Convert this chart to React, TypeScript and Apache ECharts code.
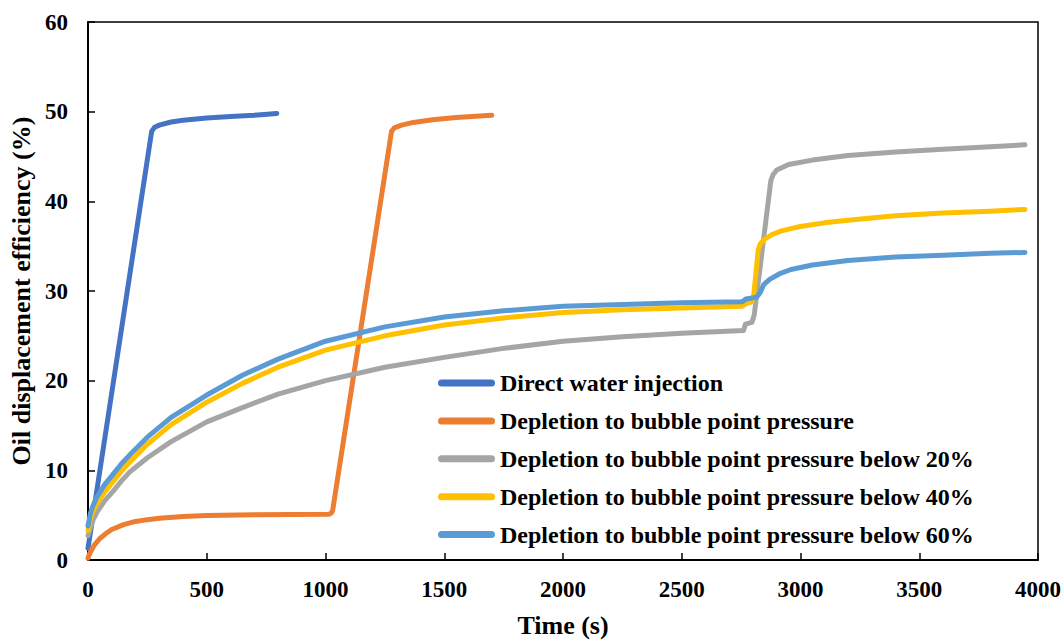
import React, { useEffect, useRef } from "react";
import * as echarts from "echarts";

const seriesNames = [
  "Direct water injection",
  "Depletion to bubble point pressure",
  "Depletion to bubble point pressure below 20%",
  "Depletion to bubble point pressure below 40%",
  "Depletion to bubble point pressure below 60%",
];
const seriesColors = ["#4472C4", "#ED7D31", "#A5A5A5", "#FFC000", "#5B9BD5"];

const directWater: number[][] = [
  [0, 1.3], [268, 47.8], [280, 48.25], [300, 48.5], [350, 48.85], [400, 49.05], [500, 49.3],
  [600, 49.45], [700, 49.6], [795, 49.8],
];
const depletionBubble: number[][] = [
  [0, 0.2], [5, 0.6], [10, 0.9], [25, 1.6], [50, 2.4], [75, 2.95], [100, 3.4], [150, 3.95],
  [200, 4.3], [250, 4.5], [300, 4.65], [400, 4.85], [500, 4.95], [700, 5.05], [1015, 5.1],
  [1025, 5.25], [1030, 5.5], [1278, 47.8], [1290, 48.2], [1320, 48.5], [1370, 48.8],
  [1450, 49.1], [1550, 49.35], [1700, 49.6],
];
const below20: number[][] = [
  [0, 2.7], [10, 3.6], [20, 4.4], [37, 5.3], [70, 6.6], [107, 7.7], [140, 8.8], [175, 9.8],
  [250, 11.4], [350, 13.2], [500, 15.4], [650, 17.0], [800, 18.5], [1000, 20.0],
  [1250, 21.5], [1500, 22.6], [1750, 23.6], [2000, 24.4], [2250, 24.9], [2500, 25.3],
  [2760, 25.6], [2768, 26.3], [2795, 26.5], [2805, 27.3], [2875, 42.3], [2885, 43.0],
  [2900, 43.5], [2950, 44.1], [3050, 44.6], [3200, 45.1], [3400, 45.5], [3600, 45.8],
  [3800, 46.1], [3945, 46.3],
];
const below40: number[][] = [
  [0, 3.3], [10, 4.6], [20, 5.4], [37, 6.3], [70, 7.6], [107, 8.8], [140, 9.9], [175, 10.9],
  [250, 12.9], [350, 15.1], [500, 17.6], [650, 19.7], [800, 21.5], [1000, 23.4],
  [1250, 25.0], [1500, 26.2], [1750, 27.0], [2000, 27.6], [2250, 27.9], [2500, 28.1],
  [2755, 28.3], [2770, 28.6], [2795, 28.8], [2803, 29.5], [2822, 34.6], [2832, 35.3],
  [2850, 35.8], [2880, 36.3], [2920, 36.7], [3000, 37.2], [3100, 37.6], [3200, 37.9],
  [3400, 38.4], [3600, 38.7], [3800, 38.9], [3945, 39.1],
];
const below60: number[][] = [
  [0, 3.8], [10, 5.2], [20, 6.0], [37, 7.0], [70, 8.4], [107, 9.6], [140, 10.7], [175, 11.7],
  [250, 13.7], [350, 15.9], [500, 18.4], [650, 20.6], [800, 22.4], [1000, 24.4],
  [1250, 26.0], [1500, 27.1], [1750, 27.8], [2000, 28.3], [2250, 28.5], [2500, 28.7],
  [2755, 28.8], [2770, 29.1], [2815, 29.3], [2830, 29.8], [2845, 30.7], [2870, 31.3],
  [2910, 31.9], [2960, 32.4], [3050, 32.9], [3200, 33.4], [3400, 33.8], [3600, 34.0],
  [3800, 34.2], [3945, 34.3],
];
const allData = [directWater, depletionBubble, below20, below40, below60];

const xTicks = { min: 0, max: 4000, interval: 500 };
const yTicks = { min: 0, max: 60, interval: 10 };

const FONT = '"Liberation Serif", "Times New Roman", serif';

export default function App() {
  const ref = useRef<HTMLDivElement>(null);
  useEffect(() => {
    document.body.style.margin = "0";
    const chart = echarts.init(ref.current!, undefined, { renderer: "svg" });
    chart.setOption({
      animation: false,
      backgroundColor: "#fff",
      grid: {
        left: 88, right: 25, top: 22, bottom: 81,
        show: true, borderColor: "#000", borderWidth: 1.5,
      },
      legend: {
        orient: "vertical",
        left: 433,
        top: 366,
        itemWidth: 57,
        itemHeight: 7,
        itemGap: 13.9,
        icon: "path://M3.5,0 L53.5,0 A3.5,3.5 0 0 1 53.5,7 L3.5,7 A3.5,3.5 0 0 1 3.5,0 Z",
        textStyle: {
          fontFamily: FONT, fontWeight: "bold", fontSize: 24, lineHeight: 24, color: "#000",
        },
        data: seriesNames,
      },
      xAxis: {
        type: "value",
        ...xTicks,
        name: "Time (s)",
        nameLocation: "middle",
        nameGap: 52,
        nameTextStyle: { fontFamily: FONT, fontWeight: "bold", fontSize: 26, color: "#000" },
        axisLine: { lineStyle: { color: "#000", width: 2 } },
        axisTick: { inside: true, length: 7, lineStyle: { color: "#000", width: 1.5 } },
        axisLabel: {
          fontFamily: FONT, fontWeight: "bold", fontSize: 23, color: "#000", margin: 18,
          formatter: (v: number) => String(v),
        },
        splitLine: { show: false },
      },
      yAxis: {
        type: "value",
        ...yTicks,
        name: "Oil displacement efficiency (%)",
        nameLocation: "middle",
        nameGap: 54,
        nameTextStyle: { fontFamily: FONT, fontWeight: "bold", fontSize: 26, color: "#000" },
        axisLine: { show: true, lineStyle: { color: "#000", width: 2 } },
        axisTick: { show: true, inside: true, length: 7, lineStyle: { color: "#000", width: 1.5 } },
        axisLabel: {
          fontFamily: FONT, fontWeight: "bold", fontSize: 23, color: "#000", margin: 20,
          formatter: (v: number) => String(v),
        },
        splitLine: { show: false },
      },
      series: seriesNames.map((name, i) => ({
        name,
        type: "line",
        data: allData[i],
        showSymbol: false,
        symbol: "none",
        smooth: false,
        color: seriesColors[i],
        lineStyle: { color: seriesColors[i], width: 5, cap: "round", join: "round" },
        z: 2 + i,
      })),
    });
    return () => chart.dispose();
  }, []);
  return <div ref={ref} style={{ width: 1064, height: 643 }} />;
}
